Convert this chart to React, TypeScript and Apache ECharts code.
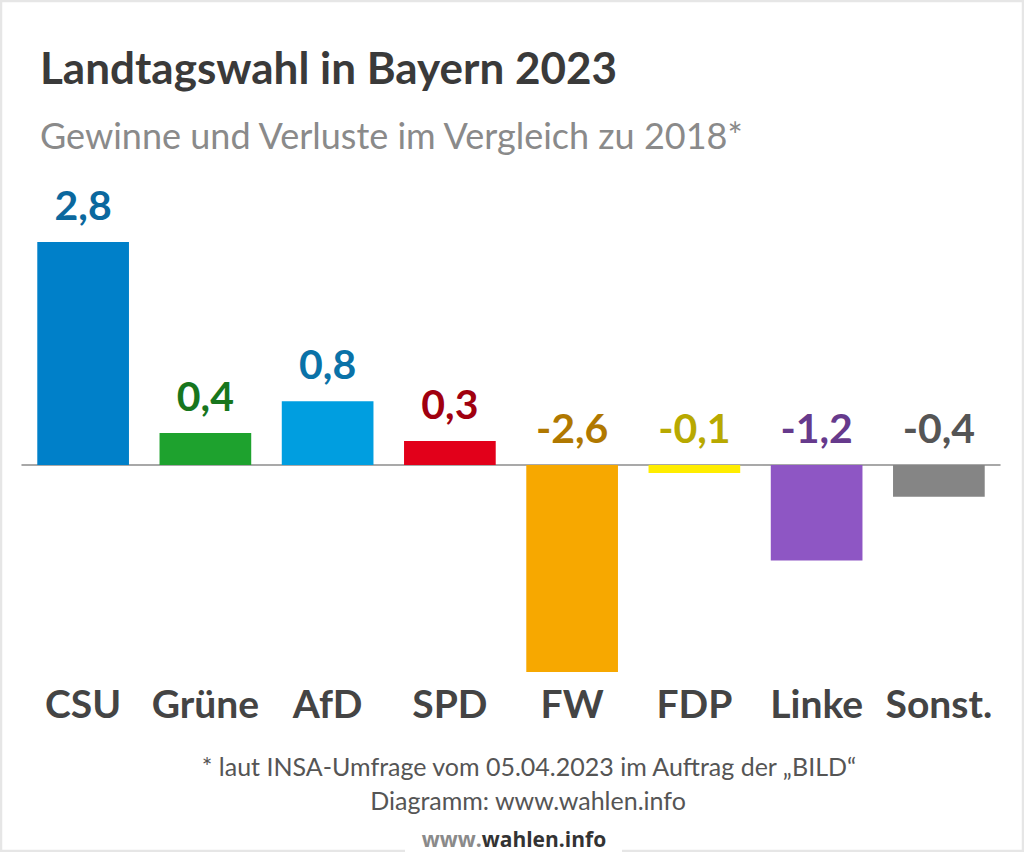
import React, { useEffect, useRef } from "react";
import * as echarts from "echarts";

const categories = ["CSU", "Grüne", "AfD", "SPD", "FW", "FDP", "Linke", "Sonst."];
const values = [2.8, 0.4, 0.8, 0.3, -2.6, -0.1, -1.2, -0.4];
const barColors = ["#0080c9", "#1ea22e", "#009ee0", "#e2001a", "#f7a800", "#ffed00", "#8e56c4", "#858585"];
const labelColors = ["#0b689e", "#17761d", "#0a72a8", "#a0000f", "#b07800", "#b8a900", "#663a8c", "#555555"];

const titleText = "Landtagswahl in Bayern 2023";
const subtitleText = "Gewinne und Verluste im Vergleich zu 2018*";
const footnote1 = "* laut INSA-Umfrage vom 05.04.2023 im Auftrag der „BILD“";
const footnote2 = "Diagramm: www.wahlen.info";

const FONT = "Lato, 'Open Sans', sans-serif";

export default function App() {
  const ref = useRef<HTMLDivElement>(null);
  useEffect(() => {
    if (!ref.current) return;
    const chart = echarts.init(ref.current, null, { renderer: "svg" });
    const data = values.map((v, i) => ({
      value: v,
      itemStyle: { color: barColors[i] },
      label: { color: labelColors[i] },
    }));
    chart.setOption({
      animation: false,
      backgroundColor: "#ffffff",
      textStyle: { fontFamily: FONT },
      grid: { left: 22, right: 24, top: 242, bottom: 180, containLabel: false },
      xAxis: [
        {
          type: "category",
          data: categories,
          axisLine: { show: false, onZero: false },
          axisTick: { show: false },
          axisLabel: {
            margin: 11,
            fontSize: 39,
            fontWeight: "bold",
            color: "#444444",
            fontFamily: FONT,
            interval: 0,
          },
        },
        {
          type: "category",
          data: categories,
          position: "bottom",
          axisLine: { show: true, onZero: true, lineStyle: { color: "#8c8c8c", width: 1.5 } },
          axisTick: { show: false },
          axisLabel: { show: false },
        },
      ],
      yAxis: {
        type: "value",
        min: -2.6,
        max: 2.8,
        show: false,
        splitLine: { show: false },
      },
      series: [
        {
          type: "bar",
          xAxisIndex: 0,
          data,
          barWidth: "75%",
          label: {
            show: true,
            position: "top",
            distance: 17,
            fontSize: 41,
            fontWeight: "bold",
            fontFamily: FONT,
            formatter: (p: any) => String(p.value).replace(".", ","),
          },
        },
      ],
      graphic: [
        {
          type: "rect",
          shape: { x: 1, y: 1, width: 1022, height: 850 },
          style: { fill: "none", stroke: "#e6e6e6", lineWidth: 2.5 },
          silent: true,
        },
        {
          type: "rect",
          shape: { x: 405, y: 828, width: 217, height: 24 },
          style: { fill: "#ffffff" },
          silent: true,
        },
        {
          type: "text",
          x: 40,
          y: 67,
          style: {
            text: titleText,
            fontSize: 44,
            fontWeight: "bold",
            fontFamily: FONT,
            fill: "#3a3a3a",
            textVerticalAlign: "middle",
          },
        },
        {
          type: "text",
          x: 40,
          y: 135,
          style: {
            text: subtitleText,
            fontSize: 36,
            fontFamily: FONT,
            fill: "#8a8a8a",
            textVerticalAlign: "middle",
          },
        },
        {
          type: "text",
          x: 529,
          y: 766,
          style: {
            text: footnote1,
            fontSize: 25,
            fontFamily: FONT,
            fill: "#555555",
            textAlign: "center",
            textVerticalAlign: "middle",
          },
        },
        {
          type: "text",
          x: 528,
          y: 800,
          style: {
            text: footnote2,
            fontSize: 25,
            fontFamily: FONT,
            fill: "#555555",
            textAlign: "center",
            textVerticalAlign: "middle",
          },
        },
        {
          type: "text",
          x: 514,
          y: 839,
          style: {
            text: "{a|www.}{b|wahlen.info}",
            textAlign: "center",
            textVerticalAlign: "middle",
            rich: {
              a: { fontSize: 21, lineHeight: 22, fontWeight: "bold", fontFamily: "'Open Sans', sans-serif", fill: "#8a8a8a" },
              b: { fontSize: 21, lineHeight: 22, fontWeight: "bold", fontFamily: "'Open Sans', sans-serif", fill: "#333333" },
            },
          },
        },
      ],
    });
    return () => chart.dispose();
  }, []);
  return (
    <div
      ref={ref}
      style={{ position: "fixed", left: 0, top: 0, width: 1024, height: 852 }}
    />
  );
}
